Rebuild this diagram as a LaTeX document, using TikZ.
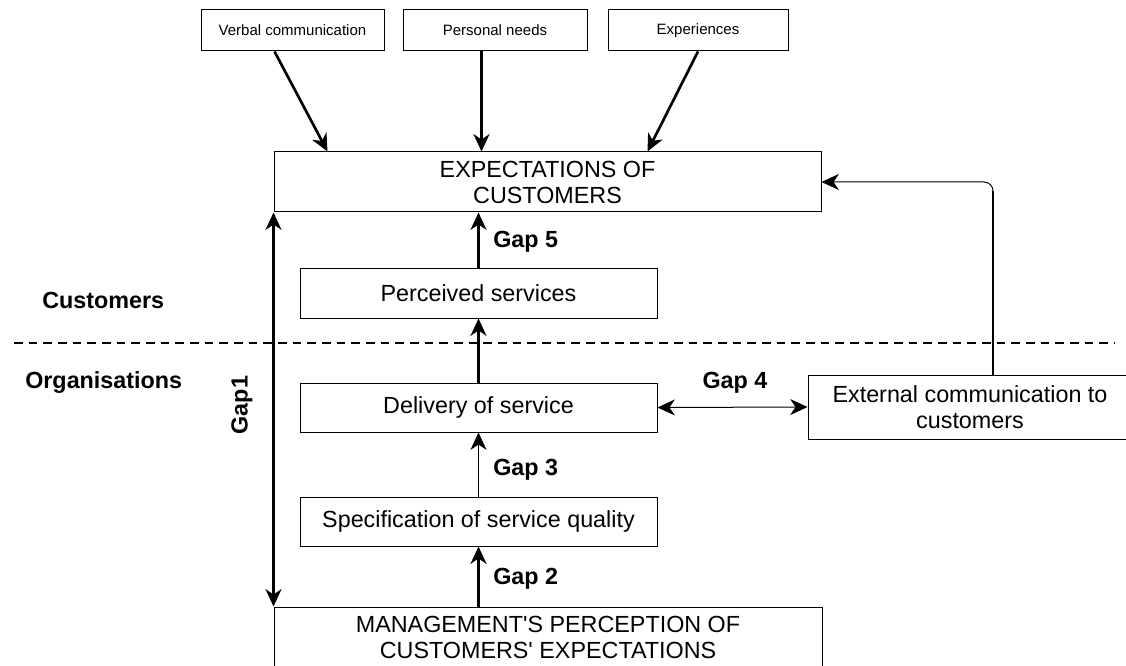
\documentclass[tikz,border=0pt]{standalone}
\usepackage{fontspec}
\setmainfont{Liberation Sans}[Ligatures=TeXOff]
\usetikzlibrary{arrows.meta}
\newcommand{\upx}{0.75pt}
\begin{document}
\begin{tikzpicture}[x=0.75pt,y=-0.75pt,
  box/.style={draw, line width=0.75pt, inner sep=0pt, align=center,
    font=\fontsize{17.5}{19.5}\selectfont},
  smallbox/.style={draw, line width=0.75pt, inner sep=0pt,
    minimum height=41*\upx, font=\fontsize{11.25}{13}\selectfont},
  lbl/.style={inner sep=0pt, font=\bfseries\fontsize{17.5}{19.5}\selectfont},
  tip/.tip={Stealth[length=13pt, width=12pt, inset=4pt]},
  thickarr/.style={line width=2pt, -tip},
  thinarr/.style={line width=0.75pt, -tip},
  sepline/.style={line width=0.9pt, dash pattern=on 6.5pt off 4.5pt}
]
\useasboundingbox (0,0) rectangle (1126,666);

% top boxes
\node[smallbox, minimum width=183*\upx] (verbal) at (292.5,30.5) {Verbal communication};
\node[smallbox, minimum width=184*\upx] (personal) at (495,30.5) {Personal needs};
\node[smallbox, minimum width=180*\upx] (exper) at (698,30.5) {Experiences};

% main boxes
\node[box, minimum width=547*\upx, minimum height=60*\upx] (exp) at (547.5,182) {EXPECTATIONS OF\\CUSTOMERS};
\node[box, minimum width=357*\upx, minimum height=49*\upx] (per) at (478.5,293.5) {Perceived services};
\node[box, minimum width=357*\upx, minimum height=49*\upx] (del) at (478.5,407.5) {Delivery of service};
\node[box, minimum width=357*\upx, minimum height=49*\upx] (spec) at (478.5,521.5) {Specification of service quality};
\node[box, minimum width=548*\upx, minimum height=60*\upx] (mgmt) at (548,637) {MANAGEMENT'S PERCEPTION OF\\CUSTOMERS' EXPECTATIONS};
\node[box, minimum width=324*\upx, minimum height=64*\upx] (ext) at (970,407) {External communication to\\customers};

% separator
\draw[sepline] (14,343) -- (1115,343);

% side labels
\node[lbl, anchor=west] (cust) at (42,300) {Customers};
\node[lbl, anchor=west] (org) at (25,383) {Organisations};
\node[lbl, rotate=90] (gap1) at (242,405) {Gap1};

% arrows from top boxes
\draw[thickarr] ([xshift=74*\upx]verbal.south west) -- ([xshift=54*\upx]exp.north west);
\draw[thickarr] ([xshift=79*\upx]personal.south west) -- ([xshift=208*\upx]exp.north west);
\draw[thickarr] (exper.south) -- ([xshift=374*\upx]exp.north west);

% vertical chain
\draw[thickarr] (per.north) -- (per.north |- exp.south);
\draw[thickarr] (del.north) -- (per.south);
\draw[thinarr] (spec.north) -- (del.south);
\draw[thickarr] (spec.south |- mgmt.north) -- (spec.south);

% gap 1
\draw[line width=2pt, tip-tip] (exp.south west) -- (mgmt.north west);

% gap 4
\draw[line width=0.75pt, tip-tip] (del.east) -- (ext.west);

% external to expectations
\draw[thinarr, rounded corners=9*\upx] ([xshift=23*\upx]ext.north) |- (exp.east);
\draw[line width=2pt] ([xshift=23*\upx]ext.north) -- ([xshift=23*\upx, yshift=183*\upx]ext.north);

% gap labels
\node[lbl, anchor=west] (g5) at (493,242) {Gap 5};
\node[lbl] (g4) at (735,383) {Gap 4};
\node[lbl, anchor=west] (g3) at (493,470) {Gap 3};
\node[lbl, anchor=west] (g2) at (493,579) {Gap 2};
\end{tikzpicture}
\end{document}
